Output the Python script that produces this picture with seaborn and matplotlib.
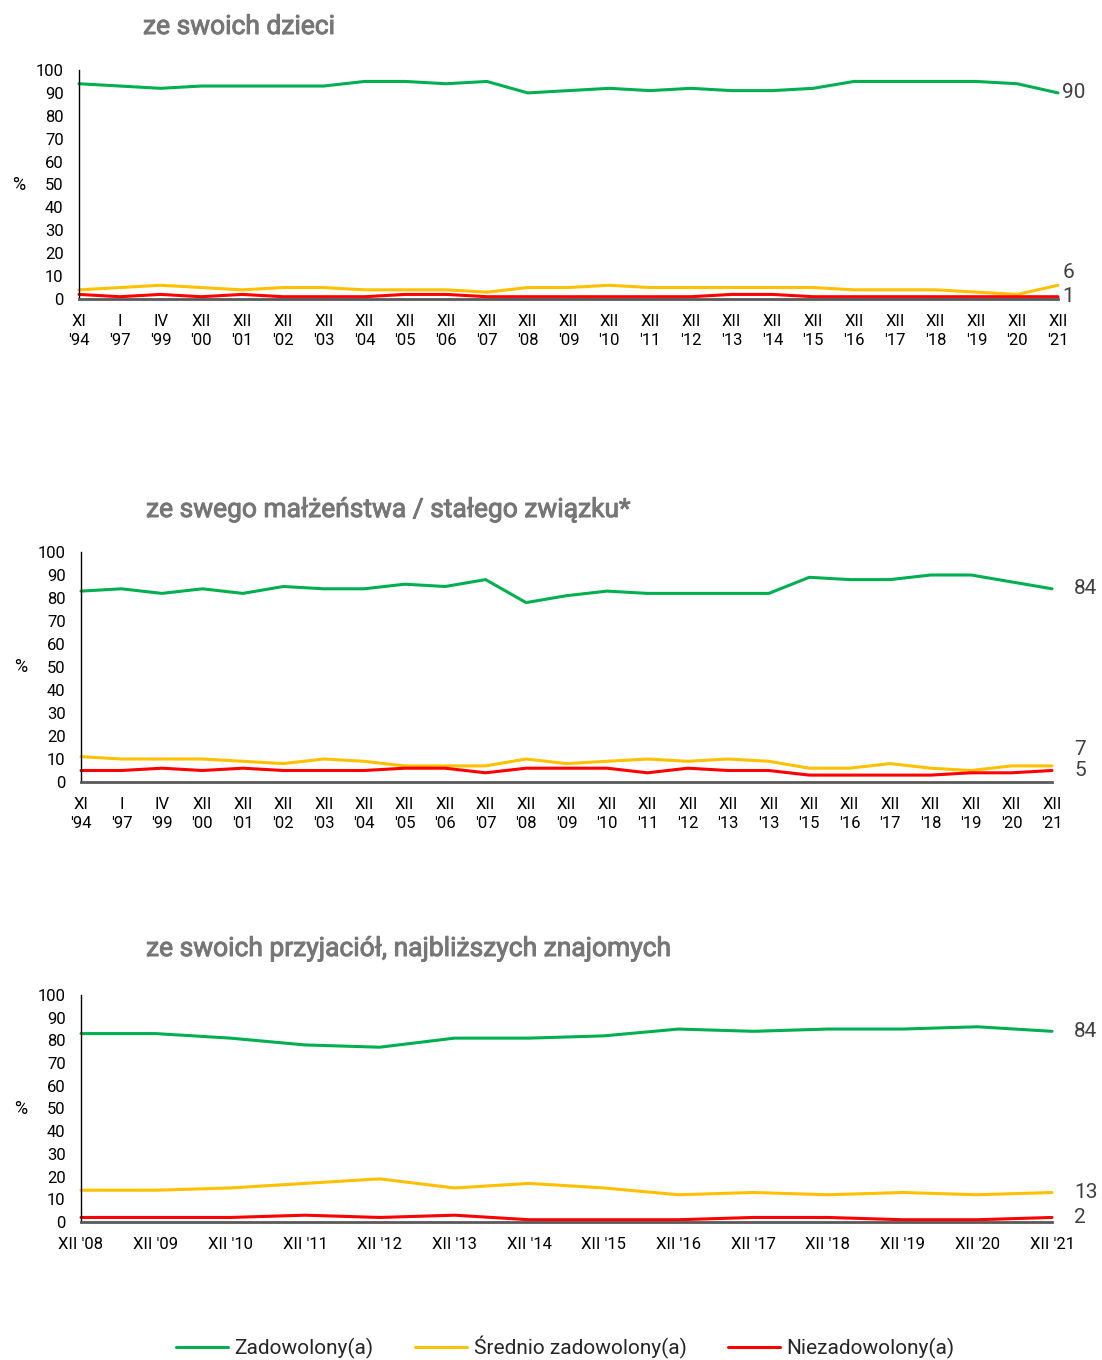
import pandas as pd
import matplotlib
matplotlib.use("Agg")
import matplotlib.pyplot as plt
import matplotlib.patheffects as pe
import seaborn as sns

# --- data ---
series_names = ["Zadowolony(a)", "Średnio zadowolony(a)", "Niezadowolony(a)"]
colors = ["#00B050", "#FFC000", "#FF0000"]

# panel 1: ze swoich dzieci
waves_1 = ["XI\n'94", "I\n'97", "IV\n'99", "XII\n'00", "XII\n'01", "XII\n'02", "XII\n'03",
           "XII\n'04", "XII\n'05", "XII\n'06", "XII\n'07", "XII\n'08", "XII\n'09", "XII\n'10",
           "XII\n'11", "XII\n'12", "XII\n'13", "XII\n'14", "XII\n'15", "XII\n'16", "XII\n'17",
           "XII\n'18", "XII\n'19", "XII\n'20", "XII\n'21"]
kids_sat = [94, 93, 92, 93, 93, 93, 93, 95, 95, 94, 95, 90, 91, 92, 91, 92, 91, 91, 92, 95, 95, 95, 95, 94, 90]
kids_mid = [4, 5, 6, 5, 4, 5, 5, 4, 4, 4, 3, 5, 5, 6, 5, 5, 5, 5, 5, 4, 4, 4, 3, 2, 6]
kids_dis = [2, 1, 2, 1, 2, 1, 1, 1, 2, 2, 1, 1, 1, 1, 1, 1, 2, 2, 1, 1, 1, 1, 1, 1, 1]

# panel 2: ze swego małżeństwa / stałego związku
waves_2 = ["XI\n'94", "I\n'97", "IV\n'99", "XII\n'00", "XII\n'01", "XII\n'02", "XII\n'03",
           "XII\n'04", "XII\n'05", "XII\n'06", "XII\n'07", "XII\n'08", "XII\n'09", "XII\n'10",
           "XII\n'11", "XII\n'12", "XII\n'13", "XII\n'13", "XII\n'15", "XII\n'16", "XII\n'17",
           "XII\n'18", "XII\n'19", "XII\n'20", "XII\n'21"]
marr_sat = [83, 84, 82, 84, 82, 85, 84, 84, 86, 85, 88, 78, 81, 83, 82, 82, 82, 82, 89, 88, 88, 90, 90, 87, 84]
marr_mid = [11, 10, 10, 10, 9, 8, 10, 9, 7, 7, 7, 10, 8, 9, 10, 9, 10, 9, 6, 6, 8, 6, 5, 7, 7]
marr_dis = [5, 5, 6, 5, 6, 5, 5, 5, 6, 6, 4, 6, 6, 6, 4, 6, 5, 5, 3, 3, 3, 3, 4, 4, 5]

# panel 3: ze swoich przyjaciół
waves_3 = ["XII '08", "XII '09", "XII '10", "XII '11", "XII '12", "XII '13", "XII '14",
           "XII '15", "XII '16", "XII '17", "XII '18", "XII '19", "XII '20", "XII '21"]
fr_sat = [83, 83, 81, 78, 77, 81, 81, 82, 85, 84, 85, 85, 86, 84]
fr_mid = [14, 14, 15, 17, 19, 15, 17, 15, 12, 13, 12, 13, 12, 13]
fr_dis = [2, 2, 2, 3, 2, 3, 1, 1, 1, 2, 2, 1, 1, 2]

titles = ["ze swoich dzieci",
          "ze swego małżeństwa / stałego związku*",
          "ze swoich przyjaciół, najbliższych znajomych"]

panels = [
    (waves_1, [kids_sat, kids_mid, kids_dis]),
    (waves_2, [marr_sat, marr_mid, marr_dis]),
    (waves_3, [fr_sat, fr_mid, fr_dis]),
]

# layout (figure fractions) and end-label nudges in points
axes_boxes = [
    [79 / 1102, 1 - 299 / 1360, 979 / 1102, 229 / 1360],
    [81 / 1102, 1 - 782 / 1360, 971 / 1102, 230 / 1360],
    [81 / 1102, 1 - 1222 / 1360, 971 / 1102, 227 / 1360],
]
title_pos = [(143, 27), (146, 510), (146, 949)]
label_dx = [3, 16, 16]
label_dy = [[0, 9, 0], [0, 12, 0], [0, 0, 0]]

sns.set_theme(style="white")
plt.rcParams["font.family"] = ["Roboto", "DejaVu Sans"]

fig = plt.figure(figsize=(11.02, 13.6), dpi=100)

for i, (waves, vals) in enumerate(panels):
    ax = fig.add_axes(axes_boxes[i])
    df = pd.DataFrame({
        "pos": list(range(len(waves))) * 3,
        "value": vals[0] + vals[1] + vals[2],
        "series": [s for s in series_names for _ in waves],
    })
    sns.lineplot(data=df, x="pos", y="value", hue="series", hue_order=series_names,
                 palette=colors, linewidth=2.2, legend=False, ax=ax)
    for ln in ax.lines:
        ln.set_clip_on(False)

    ax.set_xlim(0, len(waves) - 1)
    ax.set_ylim(0, 100)
    ax.set_yticks(range(0, 101, 10))
    ax.set_xticks(range(len(waves)))
    ax.set_xticklabels(waves, linespacing=1.3)
    ax.tick_params(axis="y", length=0, pad=11, labelsize=12, labelcolor="#000000")
    ax.tick_params(axis="x", length=0, pad=11, labelsize=12, labelcolor="#000000")
    ax.set_xlabel("")
    ax.set_ylabel("")
    ax.text(-0.062, 0.5, "%", transform=ax.transAxes, ha="center", va="center",
            fontsize=13, color="#000000")

    for side in ["top", "right"]:
        ax.spines[side].set_visible(False)
    ax.spines["left"].set_color("#000000")
    ax.spines["left"].set_linewidth(1.0)
    ax.spines["bottom"].set_color("#595959")
    ax.spines["bottom"].set_linewidth(2.0)
    ax.set_facecolor("none")

    # end-of-line value labels
    for k in range(3):
        last = vals[k][-1]
        ax.annotate(str(last), xy=(len(waves) - 1, last), xytext=(label_dx[i], label_dy[i][k]),
                    textcoords="offset points", ha="left", va="center",
                    fontsize=15, color="#404040", annotation_clip=False)

    # medium-weight look: regular face with a thin outline
    tx, ty = title_pos[i]
    fig.text(tx / 1102, 1 - ty / 1360, titles[i], ha="left", va="center",
             fontsize=19, color="#767676",
             path_effects=[pe.withStroke(linewidth=0.7, foreground="#767676")])

handles = [plt.Line2D([], [], color=c, linewidth=2.2) for c in colors]
fig.legend(handles, series_names, loc="center", bbox_to_anchor=(0.513, 1 - 1347 / 1360),
           ncol=3, frameon=False, fontsize=15, handlelength=2.5, handletextpad=0.3,
           columnspacing=2.0)

fig.savefig("out.png", dpi=100)
